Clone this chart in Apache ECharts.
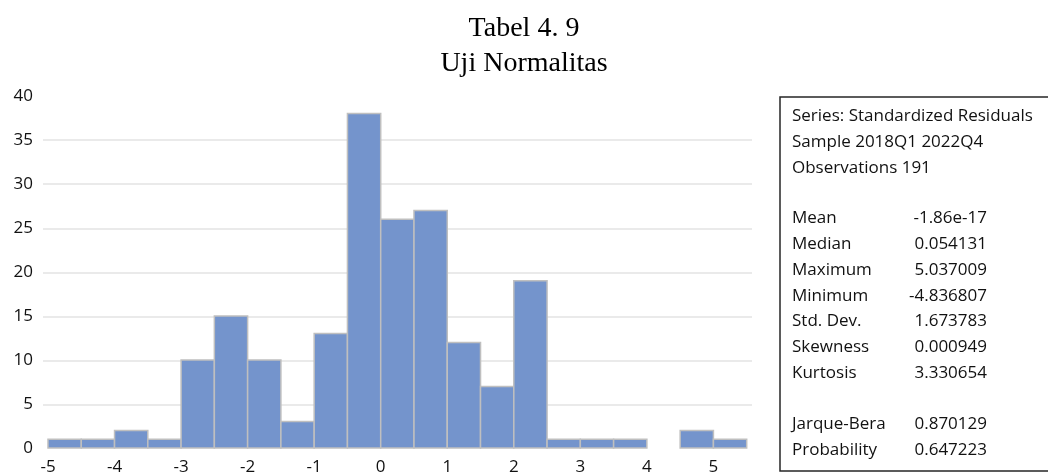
<!DOCTYPE html>
<html>
<head>
<meta charset="utf-8">
<title>Uji Normalitas</title>
<script src="https://cdn.jsdelivr.net/npm/echarts/dist/echarts.min.js"></script>
<style>
  html, body { margin: 0; padding: 0; background: #fff; }
  #main { width: 1048px; height: 476px; }
</style>
</head>
<body>
<div id="main"></div>
<script>
// histogram bins (left edge), width 0.5
var binStart = [-5, -4.5, -4, -3.5, -3, -2.5, -2, -1.5, -1, -0.5, 0, 0.5, 1, 1.5, 2, 2.5, 3, 3.5, 4, 4.5, 5];
var binWidth = 0.5;
var counts = [1, 1, 2, 1, 10, 15, 10, 3, 13, 38, 26, 27, 12, 7, 19, 1, 1, 1, 0, 2, 1];

var titleLines = ['Tabel 4. 9', 'Uji Normalitas'];
var headerLines = ['Series: Standardized Residuals', 'Sample 2018Q1 2022Q4', 'Observations 191'];
var statNames = ['Mean', 'Median', 'Maximum', 'Minimum', 'Std. Dev.', 'Skewness', 'Kurtosis'];
var statValues = ['-1.86e-17', '0.054131', '5.037009', '-4.836807', '1.673783', '0.000949', '3.330654'];
var testNames = ['Jarque-Bera', 'Probability'];
var testValues = ['0.870129', '0.647223'];

var chart = echarts.init(document.getElementById('main'));

var bins = binStart.map(function (s, i) {
    return [s, s + binWidth, counts[i]];
});

var labelFont = '"Open Sans", sans-serif';
var boxText = { fontFamily: labelFont, fontSize: 17, fill: '#111' };

// stats box (eviews style)
var graphics = [{
    type: 'rect',
    shape: { x: 780, y: 97, width: 280, height: 374 },
    style: { fill: 'none', stroke: '#262626', lineWidth: 1.5 }
}];
var lineH = 25.9;
function addText(txt, x, y, align) {
    graphics.push({
        type: 'text', x: x, y: y,
        style: {
            text: txt, fontFamily: boxText.fontFamily, fontSize: boxText.fontSize,
            fill: boxText.fill, align: align || 'left', verticalAlign: 'middle'
        }
    });
}
headerLines.forEach(function (t, i) {
    addText(t, 792, 116 + i * lineH);
});
statNames.forEach(function (t, i) {
    addText(t, 792, 218 + i * lineH);
    addText(statValues[i], 987, 218 + i * lineH, 'right');
});
testNames.forEach(function (t, i) {
    addText(t, 792, 424.5 + i * lineH);
    addText(testValues[i], 987, 424.5 + i * lineH, 'right');
});

var option = {
    animation: false,
    backgroundColor: '#fff',
    title: [{
        text: titleLines[0], left: 'center', top: 10,
        textStyle: { fontFamily: '"Liberation Serif", serif', fontSize: 28, fontWeight: 'normal', color: '#000' }
    }, {
        text: titleLines[1], left: 'center', top: 45,
        textStyle: { fontFamily: '"Liberation Serif", serif', fontSize: 28, fontWeight: 'normal', color: '#000' }
    }],
    grid: [
        // background grid only for gridlines 5..35 (a bit wider than bars)
        { left: 43, right: 296, top: 140.1, bottom: 71.1, show: false },
        { left: 48, right: 301.3, top: 96, bottom: 27, show: false }
    ],
    xAxis: [{
        gridIndex: 0, type: 'value', min: 0, max: 1, show: false
    }, {
        gridIndex: 1, type: 'value', min: -5, max: 5.5, interval: 1,
        axisLine: { show: false }, axisTick: { show: false }, splitLine: { show: false },
        axisLabel: {
            showMaxLabel: false, margin: 11,
            fontFamily: labelFont, fontSize: 17, color: '#111'
        }
    }],
    yAxis: [{
        gridIndex: 0, type: 'value', min: 5, max: 35, interval: 5,
        axisLine: { show: false }, axisTick: { show: false }, axisLabel: { show: false },
        splitLine: { show: true, lineStyle: { color: '#e3e3e3', width: 1.5 } }
    }, {
        gridIndex: 1, type: 'value', min: 0, max: 40, interval: 5,
        axisLine: { show: false }, axisTick: { show: false }, splitLine: { show: false },
        axisLabel: { margin: 15, fontFamily: labelFont, fontSize: 17, color: '#111' }
    }],
    series: [{
        type: 'custom',
        xAxisIndex: 1, yAxisIndex: 1,
        encode: { x: [0, 1], y: 2 },
        data: bins,
        renderItem: function (params, api) {
            var n = api.value(2);
            if (!n) return null;
            var p0 = api.coord([api.value(0), n]);
            var p1 = api.coord([api.value(1), 0]);
            return {
                type: 'rect',
                shape: { x: p0[0], y: p0[1], width: p1[0] - p0[0], height: p1[1] - p0[1] },
                style: { fill: '#7494cc', stroke: '#bfbfbf', lineWidth: 1.5 }
            };
        }
    }],
    graphic: graphics
};

chart.setOption(option);
</script>
</body>
</html>
